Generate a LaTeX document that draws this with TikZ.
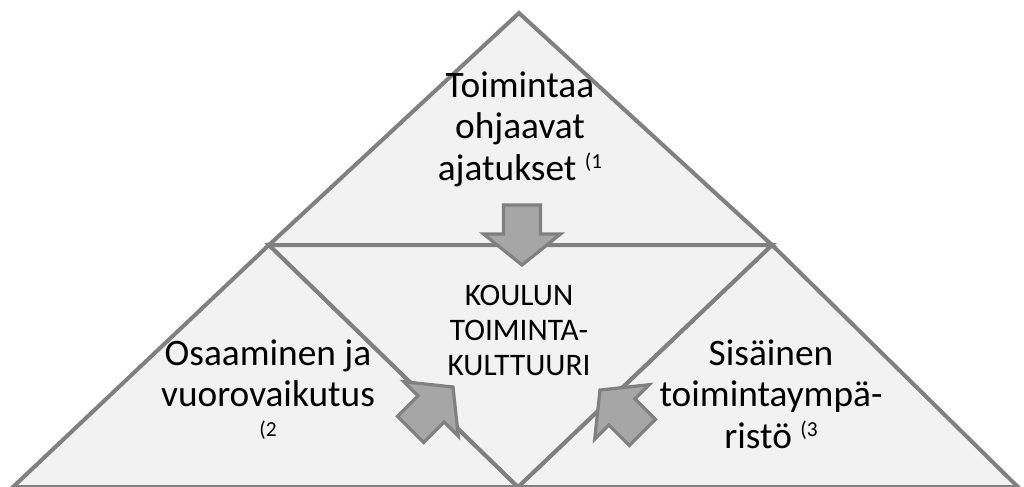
\documentclass[tikz,border=0pt]{standalone}
\usepackage{fontspec}
\setmainfont{Carlito}
\definecolor{edgegray}{HTML}{808080}
\definecolor{trifill}{HTML}{F2F2F2}
\definecolor{arrowfill}{HTML}{A6A6A6}
\newcommand\supnote[1]{{\fontsize{16}{16}\selectfont\raisebox{8.5pt}{#1}}}
\begin{document}
\begin{tikzpicture}[x=0.75pt,y=-0.75pt,
  tri/.style={draw=edgegray, fill=trifill, line width=3pt, line join=miter},
  blockarrow/.style={draw=edgegray, fill=arrowfill, line width=2.4pt, line join=miter},
  bigtxt/.style={font=\fontsize{28}{30.8}\selectfont, align=center, inner sep=0pt, anchor=base},
  smalltxt/.style={font=\fontsize{23.5}{26}\selectfont, align=center, inner sep=0pt, anchor=base}]
\useasboundingbox (0,0) rectangle (1024,486);
% vertices
\coordinate (apex) at (519,13);
\coordinate (jl) at (269,245);
\coordinate (jr) at (772,245);
\coordinate (bl) at (13,487);
\coordinate (bm) at (518,487);
\coordinate (br) at (1018,487);
% triangles
\draw[tri] (apex) -- (jl) -- (jr) -- cycle;
\draw[tri] (jl) -- (bl) -- (bm) -- cycle;
\draw[tri] (jr) -- (bm) -- (br) -- cycle;
\draw[tri] (jl) -- (jr) -- (bm) -- cycle;
% block arrows
\draw[blockarrow, shift={(522,265)}]
  (-18.5,-60) -- (18.5,-60) -- (18.5,-31) -- (38.5,-31) -- (0,0) -- (-38.5,-31) -- (-18.5,-31) -- cycle;
\draw[blockarrow, shift={(453,387)}, rotate=135]
  (-18.5,-60) -- (18.5,-60) -- (18.5,-31) -- (38.5,-31) -- (0,0) -- (-38.5,-31) -- (-18.5,-31) -- cycle;
\draw[blockarrow, shift={(600,390)}, rotate=225]
  (-18.5,-60) -- (18.5,-60) -- (18.5,-31) -- (38.5,-31) -- (0,0) -- (-38.5,-31) -- (-18.5,-31) -- cycle;
% texts (anchored at the baseline of the last line)
\node[bigtxt] (top) at (520,180) {Toimintaa\\ohjaavat\\ajatukset \supnote{(1}};
\node[smalltxt] (mid) at (519,375) {KOULUN\\TOIMINTA-\\KULTTUURI};
\node[bigtxt] (left) at (268,448) {Osaaminen ja\\vuorovaikutus\\\supnote{(2}};
\node[bigtxt] (right) at (771,448) {Sisäinen\\toimintaympä-\\ristö \supnote{(3}};
\end{tikzpicture}
\end{document}
